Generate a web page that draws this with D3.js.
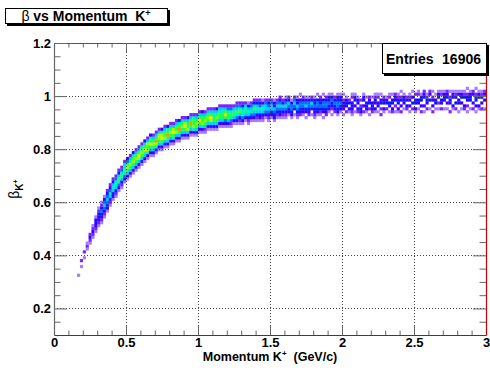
<!DOCTYPE html>
<html>
<head>
<meta charset="utf-8">
<script src="https://cdn.jsdelivr.net/npm/d3@7"></script>
<style>
  body { margin: 0; background: #fff; }
  svg { display: block; }
  text { font-family: "Liberation Sans", Arial, Helvetica, sans-serif; }
</style>
</head>
<body>
<svg id="chart" width="490" height="371"></svg>
<script>
// ---- histogram binning ----
const momentumRange = [0, 3];        // GeV/c
const betaRange = [0.1, 1.2];
const momentumBinWidth = 0.02;
const betaBinWidth = 0.011;
const firstColumn = 8;               // first filled momentum bin

// One entry per momentum bin: [first beta bin, content level per beta bin]
// levels: 1..9, a, b, c (hex) ; "." = empty bin
const kaonColumns = [
  [20,"1"], [23,"1.2"], [26,"1.2"], [29,"121"], [31,"1232"],
  [33,"12321"], [35,"123431"], [37,"1234421"], [38,"12345421"], [40,"12356531"],
  [42,"13456542"], [44,"12467532"], [46,"13467642"], [47,"12467752"], [49,"13578642"],
  [50,"12468752"], [52,"13578762"], [53,"13679853"], [54,"13689762"], [55,"13689873"],
  // p = 0.56
  [56,"13689862"], [57,"1369a862"], [58,"14689872"], [59,"1368a863"], [60,"13798962"],
  [61,"1368a873"], [61,"13689862"], [62,"1379b862"], [63,"13689962"], [63,"1368a973"],
  [64,"14698862"], [64,"1368b873"], [65,"13689862"], [65,"1378a962"], [66,"13698862"],
  [66,"1368b873"], [67,"14689862"], [67,"1368a962"], [67,"13698863"], [68,"1368b862"],
  [68,"13798872"], [68,"13689862"],
  // p = 1.00
  [69,"1368a862"], [69,"13798863"], [69,"12689862"], [70,"13689862"], [70,"1369a862"],
  [70,"13688762"], [70,"13689763"], [71,"13688762"], [71,"13678762"], [71,"1358a862"],
  [71,"13688752"], [71,"12578752"], [72,"1368762"], [72,"13578652"], [72,"12468752"],
  [72,"13577642"], [73,"1367762"], [72,"12467641"], [73,"1357652"], [73,"13568642"],
  [73,"12467642"], [73,"13467542"], [73,"12467631"], [74,"1356652"], [73,"12456542"],
  // p = 1.50
  [74,"1346652"], [73,"13456431"], [74,"1245652"], [74,"13456532"], [74,"1245642"],
  [74,"12356531"], [75,"1345642"], [74,"1345541"], [75,"1.45652"], [74,"12456431"],
  [75,"234553.1"], [75,"1345542"], [74,"1.346531"], [75,"2345541"], [75,"1.45642"],
  [74,"12345431"], [75,"134554.1"], [75,"1245432"], [74,"1.34553.1"], [75,"2345542"],
  [76,"1345431"], [75,"1.244531"], [76,"234542"], [75,"13455431"], [76,"1345431"],
  // p = 2.00
  [75,"1.3432.1"], [76,"2.3431"], [76,"13.42"], [75,"12343.21"], [76,"1.3.431"],
  [76,"23.431"], [75,"1342.2"], [76,"2.3.431"], [76,"1343.1"], [75,"1.2.432"],
  [76,"2343.1"], [76,"13.3421"], [76,"1.43.21"], [75,"2.2.43.1"], [76,"13.432"],
  [77,"2.431"], [76,"1.34.21"], [76,"23.43.1"], [76,"1.2.432"], [76,"13.4321"],
  [76,"2.3.42.1"], [77,"1.3431"], [77,"24.32"], [76,"1.3.421"], [77,"2.4.3.1"],
  // p = 2.50
  [76,"13.43.2"], [77,"1.34.21"], [76,"2.3.431"], [76,"1.3..432"], [77,"2.3421"],
  [77,"1..4.32"], [76,"2.3.42.1"], [77,"1.43.1"], [77,"1.2.431"], [77,"2.34.21"],
  [77,"1..3431"], [77,"1.3.432"], [76,"2..342.1"], [77,"13..431"], [77,"2.4.321"],
  [76,"1..34.31"], [77,"1.3.431"], [77,"23..421"], [76,"1.2.342.1"], [77,"1..4431"],
  [77,"2.3..32"], [76,"1.3.442.1"], [77,"13..431"], [77,"2.3.421"], [77,"1..4.32"]
];

// colour palette, lowest to highest content
const paletteColors = [
  "#a57cff", "#7a22ff", "#3a00ff", "#0a16ff", "#0072ff", "#00ccff",
  "#00f2b4", "#22ff44", "#96ff00", "#ffe400", "#ff9400", "#ff2400"
];

const xMajorTicks = [0, 0.5, 1, 1.5, 2, 2.5, 3];
const yMajorTicks = [0.2, 0.4, 0.6, 0.8, 1, 1.2];
const entries = 16906;

// ---- layout ----
const frame = { left: 54, right: 486, top: 43, bottom: 335 };
const svg = d3.select("#chart");

const x = d3.scaleLinear().domain(momentumRange).range([frame.left, frame.right]);
const y = d3.scaleLinear().domain(betaRange).range([frame.bottom, frame.top]);
const color = d3.scaleQuantize().domain([0.5, paletteColors.length + 0.5]).range(paletteColors);

// flatten columns into bins
const cells = [];
kaonColumns.forEach(([start, levels], k) => {
  const col = firstColumn + k;
  [...levels].forEach((ch, m) => {
    if (ch === ".") return;
    cells.push({ col, row: start + m, level: parseInt(ch, 16) });
  });
});

// frame background
svg.append("rect")
  .attr("x", frame.left).attr("y", frame.top)
  .attr("width", frame.right - frame.left).attr("height", frame.bottom - frame.top)
  .attr("fill", "#fff");

// histogram bins
svg.append("g").selectAll("rect").data(cells).join("rect")
  .attr("x", d => x(momentumRange[0] + d.col * momentumBinWidth))
  .attr("width", d => x(momentumRange[0] + (d.col + 1) * momentumBinWidth) - x(momentumRange[0] + d.col * momentumBinWidth) + 0.25)
  .attr("y", d => y(betaRange[0] + (d.row + 1) * betaBinWidth))
  .attr("height", d => y(betaRange[0] + d.row * betaBinWidth) - y(betaRange[0] + (d.row + 1) * betaBinWidth) + 0.25)
  .attr("fill", d => color(d.level));

// dotted grid
const grid = svg.append("g").attr("stroke", "#444").attr("stroke-width", 1).attr("stroke-dasharray", "1,2");
grid.selectAll("line.gx").data(xMajorTicks.filter(v => v > momentumRange[0] && v < momentumRange[1])).join("line")
  .attr("x1", d => Math.round(x(d)) + 0.5).attr("x2", d => Math.round(x(d)) + 0.5)
  .attr("y1", frame.top).attr("y2", frame.bottom);
grid.selectAll("line.gy").data(yMajorTicks.filter(v => v < betaRange[1])).join("line")
  .attr("y1", d => Math.round(y(d)) + 0.5).attr("y2", d => Math.round(y(d)) + 0.5)
  .attr("x1", frame.left).attr("x2", frame.right);

// ---- axes (ticks drawn inside the frame on all four sides) ----
const xMinorTicks = d3.range(0.1, 3, 0.1).filter(v => Math.abs(v * 2 - Math.round(v * 2)) > 1e-6);
const yMinorTicks = d3.range(0.15, 1.2, 0.05).filter(v => Math.abs(v * 5 - Math.round(v * 5)) > 1e-6);
const fmt = d => String(+d.toFixed(2));
const tickColor = "#666";

function styleAxis(g, domainColor) {
  g.selectAll(".tick line").attr("stroke", tickColor);
  g.select(".domain").attr("stroke", domainColor).attr("stroke-width", 1.2);
  g.selectAll(".tick text")
    .attr("fill", "#000").attr("font-size", 13).attr("font-weight", "bold")
    .attr("font-family", "'Liberation Sans', Arial, sans-serif");
}

// bottom
svg.append("g").attr("transform", `translate(0,${frame.bottom})`)
  .call(d3.axisBottom(x).tickValues(xMinorTicks).tickSize(-4.5).tickSizeOuter(0).tickFormat(""))
  .call(g => g.select(".domain").remove())
  .call(g => g.selectAll(".tick line").attr("stroke", tickColor));
svg.append("g").attr("transform", `translate(0,${frame.bottom})`)
  .call(d3.axisBottom(x).tickValues(xMajorTicks).tickSize(-9).tickSizeOuter(0).tickPadding(3).tickFormat(fmt))
  .call(g => styleAxis(g, "#d00000"));
// top
svg.append("g").attr("transform", `translate(0,${frame.top})`)
  .call(d3.axisTop(x).tickValues(xMinorTicks).tickSize(-4.5).tickSizeOuter(0).tickFormat(""))
  .call(g => g.select(".domain").remove())
  .call(g => g.selectAll(".tick line").attr("stroke", tickColor));
svg.append("g").attr("transform", `translate(0,${frame.top})`)
  .call(d3.axisTop(x).tickValues(xMajorTicks).tickSize(-9).tickSizeOuter(0).tickFormat(""))
  .call(g => styleAxis(g, "#555"));
// left
svg.append("g").attr("transform", `translate(${frame.left},0)`)
  .call(d3.axisLeft(y).tickValues(yMinorTicks).tickSize(-6.5).tickSizeOuter(0).tickFormat(""))
  .call(g => g.select(".domain").remove())
  .call(g => g.selectAll(".tick line").attr("stroke", tickColor));
svg.append("g").attr("transform", `translate(${frame.left},0)`)
  .call(d3.axisLeft(y).tickValues(yMajorTicks).tickSize(-13).tickSizeOuter(0).tickPadding(3).tickFormat(fmt))
  .call(g => styleAxis(g, "#666"));
// right
svg.append("g").attr("transform", `translate(${frame.right},0)`)
  .call(d3.axisRight(y).tickValues(yMinorTicks).tickSize(-6.5).tickSizeOuter(0).tickFormat(""))
  .call(g => g.select(".domain").remove())
  .call(g => g.selectAll(".tick line").attr("stroke", tickColor));
svg.append("g").attr("transform", `translate(${frame.right},0)`)
  .call(d3.axisRight(y).tickValues(yMajorTicks).tickSize(-13).tickSizeOuter(0).tickFormat(""))
  .call(g => styleAxis(g, "#d00000"));

// ---- axis titles ----
const xTitle = svg.append("text")
  .attr("x", (frame.left + frame.right) / 2).attr("y", 361)
  .attr("text-anchor", "middle").attr("font-size", 12.5).attr("font-weight", "bold");
xTitle.append("tspan").text("Momentum K");
xTitle.append("tspan").attr("dy", -5).attr("font-size", 8).text("+");
xTitle.append("tspan").attr("dy", 5).text("\u00a0 (GeV/c)");

const yTitle = svg.append("text")
  .attr("transform", `translate(19,${(frame.top + frame.bottom) / 2}) rotate(-90)`)
  .attr("text-anchor", "middle").attr("font-size", 14);
yTitle.append("tspan").text("β");
yTitle.append("tspan").attr("dy", 4).attr("font-size", 10).attr("font-weight", "bold").text("K");
yTitle.append("tspan").attr("dy", -5).attr("font-size", 7).attr("font-weight", "bold").text("+");

// ---- boxed labels with drop shadow ----
function shadowBox(x0, y0, w, h) {
  svg.append("rect").attr("x", x0 + 2).attr("y", y0 + 2).attr("width", w).attr("height", h).attr("fill", "#000");
  svg.append("rect").attr("x", x0 + 0.5).attr("y", y0 + 0.5).attr("width", w - 1).attr("height", h - 1)
    .attr("fill", "#fff").attr("stroke", "#000").attr("stroke-width", 1);
}

shadowBox(5, 8, 163, 16);
const title = svg.append("text").attr("x", 86).attr("y", 21)
  .attr("text-anchor", "middle").attr("font-size", 14);
title.append("tspan").text("β");
title.append("tspan").attr("font-weight", "bold").text(" vs Momentum\u00a0 K");
title.append("tspan").attr("font-weight", "bold").attr("dy", -5).attr("font-size", 9).text("+");

shadowBox(382, 43, 105, 31);
svg.append("text").attr("x", 386).attr("y", 64).attr("font-size", 14).attr("font-weight", "bold").text("Entries");
svg.append("text").attr("x", 481).attr("y", 64).attr("text-anchor", "end")
  .attr("font-size", 14).attr("font-weight", "bold").text(String(entries));
</script>
</body>
</html>
